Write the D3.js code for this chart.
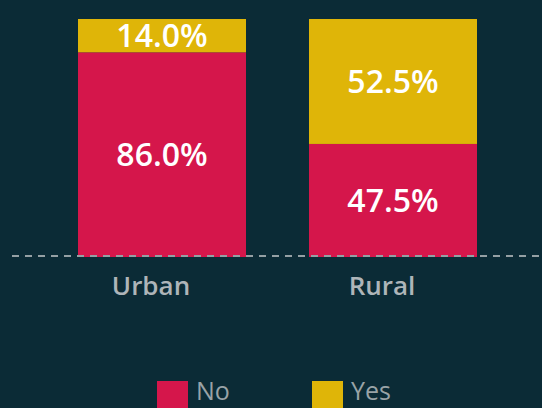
<!DOCTYPE html>
<html lang="en">
    <head>
        <meta charset="utf-8">
        <title>Urban vs Rural</title>
        <script type="text/javascript" src="https://d3js.org/d3.v7.min.js"></script>
        <style>
            body { margin: 0; background-color: #0b2b36; }
            svg { display: block; }
        </style>
    </head>
    <body>
        <script>
        // data
        const areas = ["Urban", "Rural"];
        const noValues = [86.0, 47.5];
        const yesValues = [14.0, 52.5];
        const keys = ["No", "Yes"];
        const colors = ["#d5164b", "#dfb508"];

        const width = 542, height = 408;
        const margin = {top: 19, bottom: 151, left: 12, right: 0};

        const rows = areas.map((a, i) => ({area: a, No: noValues[i], Yes: yesValues[i]}));

        const svg = d3.select("body")
            .append("svg")
                .attr("width", width)
                .attr("height", height)
                .style("background-color", "#0b2b36");

        // scales
        const x = d3.scaleBand()
            .domain(areas)
            .range([78, 477])
            .paddingInner(63 / 231)
            .paddingOuter(0);

        const y = d3.scaleLinear()
            .domain([0, 100])
            .range([height - margin.bottom, margin.top]);

        const color = d3.scaleOrdinal().domain(keys).range(colors);

        const stacked = d3.stack().keys(keys)(rows);

        // bars
        const layer = svg.selectAll("g.layer")
            .data(stacked)
            .join("g")
                .attr("class", "layer")
                .attr("fill", d => color(d.key));

        layer.selectAll("rect")
            .data(d => d)
            .join("rect")
                .attr("x", d => x(d.data.area))
                .attr("y", d => y(d[1]))
                .attr("width", x.bandwidth())
                .attr("height", d => y(d[0]) - y(d[1]));

        // value labels
        layer.selectAll("text")
            .data(d => d.map(v => ({v: v, key: d.key})))
            .join("text")
                .attr("x", d => x(d.v.data.area) + x.bandwidth() / 2)
                .attr("y", d => (y(d.v[0]) + y(d.v[1])) / 2)
                .attr("dy", "0.36em")
                .attr("text-anchor", "middle")
                .attr("fill", "#ffffff")
                .style("font-family", "Open Sans")
                .style("font-size", "32px")
                .style("font-weight", 600)
                .text(d => d.v.data[d.key].toFixed(1) + "%");

        // dashed baseline
        svg.append("line")
            .attr("x1", margin.left)
            .attr("x2", width)
            .attr("y1", y(0) - 1)
            .attr("y2", y(0) - 1)
            .attr("stroke", "#95a0a4")
            .attr("stroke-width", 2)
            .attr("stroke-dasharray", "7,6");

        // category labels (sit a little left of the bar centre)
        svg.selectAll("text.cat")
            .data(areas)
            .join("text")
                .attr("class", "cat")
                .attr("x", d => x(d) + x.bandwidth() / 2 - 11)
                .attr("y", y(0) + 38)
                .attr("text-anchor", "middle")
                .attr("fill", "#aeb5b9")
                .style("font-family", "Open Sans")
                .style("font-size", "26px")
                .style("font-weight", 600)
                .text(d => d);

        // legend
        const legend = svg.selectAll("g.legend")
            .data(keys)
            .join("g")
                .attr("class", "legend")
                .attr("transform", (d, i) => `translate(${157 + i * 155}, 381)`);

        legend.append("rect")
            .attr("width", 31)
            .attr("height", 31)
            .attr("fill", d => color(d));

        legend.append("text")
            .attr("x", 39)
            .attr("y", 19)
            .attr("fill", "#99a3a7")
            .style("font-family", "Open Sans")
            .style("font-size", "25px")
            .text(d => d);
        </script>
    </body>
</html>
